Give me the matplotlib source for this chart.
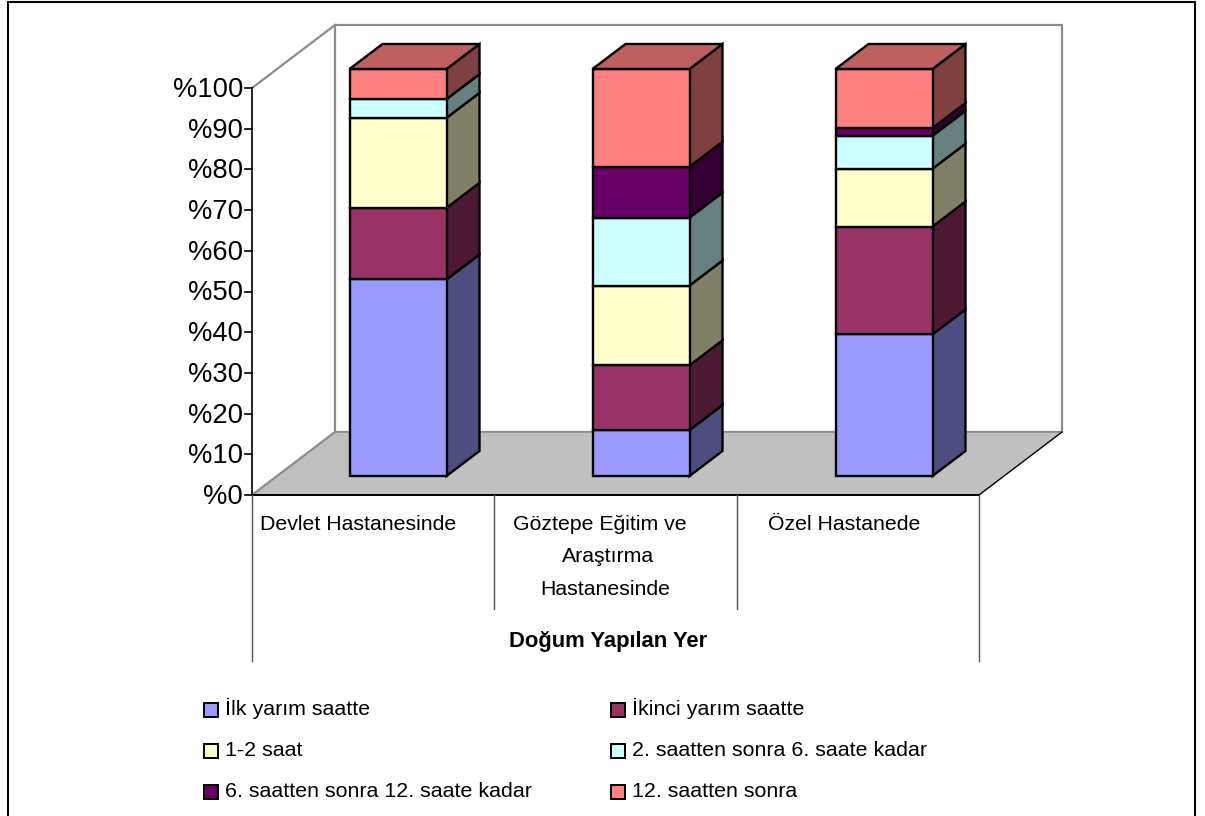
import numpy as np
import matplotlib
matplotlib.use('Agg')
import matplotlib.pyplot as plt
from matplotlib.patches import Polygon, Rectangle

plt.rcParams['font.family'] = ['Liberation Sans', 'DejaVu Sans']

# Data (percent of each bar)
categories = ['Devlet Hastanesinde', 'Göztepe Eğitim ve\nAraştırma\nHastanesinde', 'Özel Hastanede']
series_names = ['İlk yarım saatte', 'İkinci yarım saatte', '1-2 saat',
                '2. saatten sonra 6. saate kadar', '6. saatten sonra 12. saate kadar', '12. saatten sonra']
ilk_yarim = [48.3, 11.3, 34.8]
ikinci_yarim = [17.6, 15.9, 26.5]
bir_iki = [22.1, 19.6, 14.2]
iki_alti = [4.6, 16.7, 8.1]
alti_oniki = [0.0, 12.5, 1.9]
oniki_sonra = [7.4, 24.0, 14.5]
series = [ilk_yarim, ikinci_yarim, bir_iki, iki_alti, alti_oniki, oniki_sonra]
colors = ['#9999FF', '#993366', '#FFFFCC', '#CCFFFF', '#660066', '#FF8080']
yticks = list(range(0, 101, 10))

W, H = 1205, 816
fig = plt.figure(figsize=(W / 100, H / 100), dpi=100)
ax = fig.add_axes([0, 0, 1, 1])

# one axes over the whole figure: x in category units, y in percent
PX_X, PX_Y = 243.0, 4.07
X0, Y0 = 398.0, 495.0
ax.set_xlim(-X0 / PX_X, (W - X0) / PX_X)
ax.set_ylim((Y0 - H) / PX_Y, Y0 / PX_Y)
ax.axis('off')


def dx(p):
    return p / PX_X


def dy(p):
    return p / PX_Y


def shade(c, f):
    r, g, b = matplotlib.colors.to_rgb(c)
    return (r * f, g * f, b * f)


# outer frame of the picture
ax.add_patch(Rectangle((dx(8 - X0), dy(Y0 - 830)), dx(1187), dy(828), fill=False, ec='black', lw=1.5, zorder=1))

# walls and floor
left, right = dx(252 - X0), dx(979 - X0)
depth_x, depth_y = dx(83), dy(63)
wall_top = 100
grey = '#8c8c8c'
ax.add_patch(Polygon([(left + depth_x, depth_y), (right + depth_x, depth_y),
                      (right + depth_x, wall_top + depth_y), (left + depth_x, wall_top + depth_y)],
                     fc='white', ec=grey, lw=1.6, zorder=2))
ax.add_patch(Polygon([(left, 0), (right, 0), (right + depth_x, depth_y), (left + depth_x, depth_y)],
                     fc='#C0C0C0', ec='none', zorder=3))
ax.plot([left, left + depth_x], [0, depth_y], color=grey, lw=1.6, zorder=4)
ax.plot([left, left + depth_x], [100, wall_top + depth_y], color=grey, lw=1.6, zorder=4)
ax.plot([left + depth_x, right + depth_x], [depth_y, depth_y], color=grey, lw=1.2, zorder=4)
ax.plot([right, right + depth_x], [0, depth_y], color='black', lw=1, zorder=4)

# value axis
ax.plot([left, left], [0, 100], color='black', lw=1.2, zorder=5)
for t in yticks:
    ax.plot([left - dx(7), left], [t, t], color='black', lw=1.2, zorder=5)
    ax.text(left - dx(9), t - dy(2), '%%%d' % t, ha='right', va='center', fontsize=19.7, color='black', zorder=6)

# category axis with its dividers
ax.plot([left, right], [0, 0], color='black', lw=1.4, zorder=5)
step = (right - left) / len(categories)
for i in range(len(categories) + 1):
    bottom = -dy(166) if i in (0, len(categories)) else -dy(114)
    ax.plot([left + i * step] * 2, [0, bottom], color='#555555', lw=1, zorder=5)
label_x = [[358.5], [600, 608, 605.5], [844.5]]
for i, cat in enumerate(categories):
    for j, line in enumerate(cat.split('\n')):
        ax.text(dx(label_x[i][j] - X0), -dy(35 + j * 32.5), line, ha='center', va='baseline',
                fontsize=15.3, color='black', zorder=6)
ax.text(dx(608 - X0), -dy(152), 'Doğum Yapılan Yer', ha='center', va='baseline', fontsize=15.8,
        fontweight='bold', color='black', zorder=6)

# stacked 3D-look bars
half = dx(48.5)
bar_dx, bar_dy = dx(33), dy(25)
base = dy(19)
for i in range(len(categories)):
    cum = base
    for vals, c in zip(series, colors):
        v = vals[i]
        if v <= 0:
            continue
        x0, x1 = i - half, i + half
        ax.add_patch(Polygon([(x1, cum), (x1 + bar_dx, cum + bar_dy), (x1 + bar_dx, cum + v + bar_dy), (x1, cum + v)],
                             fc=shade(c, 0.5), ec='black', lw=1.7, zorder=7, joinstyle='miter'))
        ax.add_patch(Rectangle((x0, cum), x1 - x0, v, fc=c, ec='black', lw=1.7, zorder=8))
        cum += v
    top_c = colors[-1]
    ax.add_patch(Polygon([(i - half, cum), (i + half, cum), (i + half + bar_dx, cum + bar_dy), (i - half + bar_dx, cum + bar_dy)],
                         fc=shade(top_c, 0.75), ec='black', lw=1.7, zorder=8))

# legend: two columns, three rows
leg_x = [204, 611]
leg_y = [710, 751, 792]
for k, name in enumerate(series_names):
    px, py = leg_x[k % 2], leg_y[k // 2]
    ax.add_patch(Rectangle((dx(px - X0), dy(Y0 - py - 7)), dx(14), dy(14), fc=colors[k], ec='black', lw=1.4, zorder=6))
    ax.text(dx(px + 21 - X0), dy(Y0 - py - 5), name, ha='left', va='baseline', fontsize=15.4, color='black', zorder=6)

fig.savefig('out.png', dpi=100)
